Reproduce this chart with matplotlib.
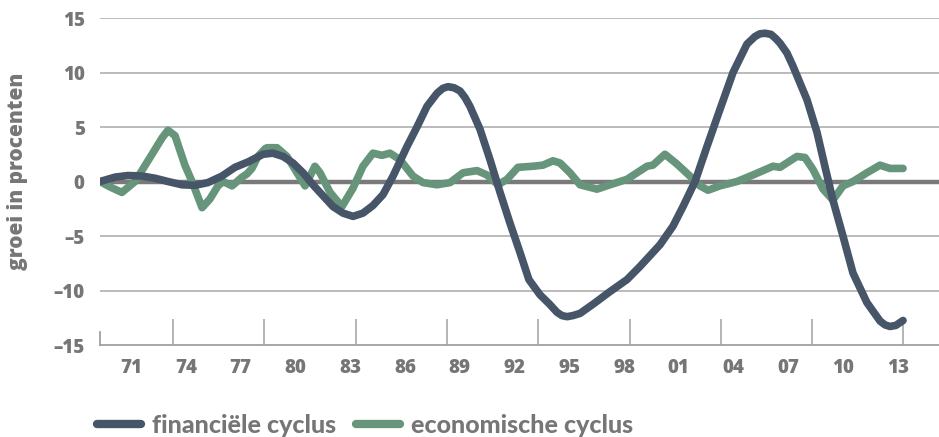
import matplotlib
matplotlib.use('Agg')
from matplotlib import pyplot as plt

# financiële cyclus (jaar, groei in %)
fin_jaar = [1970.00, 1970.82, 1971.53, 1972.30, 1973.01, 1973.72, 1974.49, 1975.20,
            1975.91, 1976.68, 1977.39, 1978.11, 1978.93, 1979.47, 1980.02, 1980.57,
            1981.12, 1981.66, 1982.21, 1982.76, 1983.31, 1983.86, 1984.40, 1984.95,
            1985.50, 1986.05, 1986.81, 1987.36, 1987.91, 1988.46, 1988.78, 1989.06,
            1989.39, 1989.72, 1989.99, 1990.26, 1990.81, 1991.36, 1991.91, 1992.45,
            1993.00, 1993.49, 1994.10, 1994.59, 1995.03, 1995.30, 1995.58, 1995.90,
            1996.29, 1997.05, 1997.93, 1998.86, 1999.57, 2000.67, 2001.38, 2001.93,
            2002.59, 2003.24, 2003.95, 2004.67, 2005.43, 2005.87, 2006.14, 2006.42,
            2006.75, 2007.02, 2007.24, 2007.62, 2007.95, 2008.72, 2009.27, 2009.70,
            2010.14, 2010.69, 2011.24, 2012.00, 2012.72, 2012.99, 2013.26, 2013.59,
            2013.98]
fin_groei = [0.0, 0.4, 0.55, 0.5, 0.3, 0.0, -0.3, -0.35,
             -0.1, 0.5, 1.3, 1.8, 2.5, 2.6, 2.3, 1.7,
             0.8, -0.3, -1.3, -2.3, -2.9, -3.2, -2.9, -2.2,
             -1.2, 0.5, 3.2, 5.0, 6.9, 8.1, 8.55, 8.7,
             8.6, 8.3, 7.7, 6.9, 4.8, 2.0, -1.0, -3.8,
             -6.5, -9.0, -10.4, -11.2, -12.0, -12.3, -12.4, -12.3,
             -12.1, -11.2, -10.1, -9.0, -7.8, -5.8, -4.1, -2.3,
             0.0, 3.2, 6.6, 10.0, 12.6, 13.3, 13.55, 13.6,
             13.5, 13.1, 12.7, 11.8, 10.6, 7.5, 4.5, 1.4,
             -1.7, -5.0, -8.4, -11.1, -12.8, -13.15, -13.3, -13.2,
             -12.75]

# economische cyclus (jaar, groei in %)
eco_jaar = [1970.00, 1970.55, 1971.20, 1971.92, 1972.74, 1973.40, 1973.72, 1974.11,
            1974.65, 1975.04, 1975.59, 1976.02, 1976.46, 1976.74, 1977.23, 1977.78,
            1978.05, 1978.32, 1978.65, 1979.04, 1979.15, 1979.69, 1980.24, 1980.79,
            1981.23, 1981.77, 1982.05, 1982.60, 1983.25, 1983.86, 1984.40, 1984.95,
            1985.44, 1985.88, 1986.43, 1987.14, 1987.69, 1988.46, 1989.17, 1989.88,
            1990.65, 1991.19, 1991.80, 1992.29, 1992.89, 1993.71, 1994.26, 1994.81,
            1995.19, 1995.74, 1996.29, 1997.22, 1997.93, 1998.86, 1999.96, 2000.28,
            2000.94, 2001.60, 2002.31, 2002.86, 2003.30, 2003.95, 2004.89, 2005.76,
            2006.86, 2007.24, 2008.17, 2008.61, 2009.05, 2009.60, 2010.14, 2010.69,
            2011.24, 2012.00, 2012.72, 2013.26, 2013.98]
eco_groei = [0.0, -0.5, -1.0, 0.0, 2.2, 4.0, 4.7, 4.2,
             1.5, 0.0, -2.4, -1.6, -0.4, 0.0, -0.4, 0.4,
             0.7, 1.2, 2.3, 3.0, 3.1, 3.1, 2.3, 0.8,
             -0.4, 1.4, 0.8, -1.0, -2.3, -0.6, 1.4, 2.6,
             2.4, 2.6, 2.0, 0.5, -0.1, -0.3, -0.1, 0.8,
             1.0, 0.6, -0.3, 0.2, 1.3, 1.4, 1.5, 1.9,
             1.7, 0.8, -0.3, -0.7, -0.3, 0.2, 1.4, 1.5,
             2.5, 1.6, 0.5, -0.4, -0.8, -0.4, 0.0, 0.6,
             1.4, 1.3, 2.3, 2.2, 1.1, -0.7, -1.7, -0.4,
             0.0, 0.8, 1.5, 1.2, 1.2]

label_jaren = [1971, 1974, 1977, 1980, 1983, 1986, 1989, 1992, 1995, 1998,
               2001, 2004, 2007, 2010, 2013]
streep_jaren = [1974, 1979, 1984, 1989, 1994, 1999, 2004, 2009, 2014]
y_ticks = [-15, -10, -5, 0, 5, 10, 15]

donker = '#475569'
groen = '#66957b'
grijs = '#767676'

plt.rcParams['font.family'] = ['Open Sans', 'DejaVu Sans']
plt.rcParams['font.weight'] = 800

fig = plt.figure(figsize=(9.39, 4.37), dpi=100)
ax = fig.add_axes([0.1065, 0.2105, 0.8935, 0.7483])

ax.set_xlim(1970, 2015.95)
ax.set_ylim(-15, 15)

for y in y_ticks[1:]:
    if y == 0:
        ax.axhline(y, color='#7a7a7a', lw=3.2, zorder=1)
    else:
        ax.axhline(y, color='#b5b5b5', lw=1.3, zorder=1)

ax.plot(fin_jaar, fin_groei, color=donker, lw=5.5, solid_capstyle='round',
        solid_joinstyle='round', zorder=3, label='financiële cyclus')
ax.plot(eco_jaar, eco_groei, color=groen, lw=5.5, solid_capstyle='round',
        solid_joinstyle='round', zorder=2, label='economische cyclus')

for s in ['top', 'right']:
    ax.spines[s].set_visible(False)
ax.spines['bottom'].set_color('#a0a0a0')
ax.spines['bottom'].set_linewidth(1.3)
ax.spines['left'].set_color('#a0a0a0')
ax.spines['left'].set_linewidth(1.3)
ax.spines['left'].set_bounds(-15, -13.8)

ax.set_yticks(y_ticks)
ax.set_yticklabels([str(v).replace('-', '–') for v in y_ticks])
ax.tick_params(axis='y', length=0, pad=11, labelsize=13.5, labelcolor=grijs)

ax.set_xticks([j + 0.7 for j in label_jaren])
ax.set_xticklabels([str(j)[2:] for j in label_jaren])
ax.set_xticks(streep_jaren, minor=True)
ax.tick_params(axis='x', which='major', length=0, pad=9, labelsize=13.5, labelcolor=grijs)
ax.tick_params(axis='x', which='minor', direction='in', length=18.5, width=1.1, color='#a0a0a0')

for lbl in ax.get_xticklabels() + ax.get_yticklabels():
    lbl.set_fontweight(800)

ax.set_ylabel('groei in procenten', fontsize=15, color=grijs, fontweight=800)
ax.yaxis.set_label_coords(-0.086, 0.532)

leg = fig.legend(loc='center left', bbox_to_anchor=(97 / 939, 0.027), ncol=2,
                 frameon=False, borderpad=0, borderaxespad=0,
                 handlelength=1.76, handletextpad=0.44, columnspacing=0.8,
                 prop={'family': 'Lato', 'weight': 900, 'size': 18})
for t in leg.get_texts():
    t.set_color(grijs)
for h in leg.get_lines():
    h.set_linewidth(6)

fig.savefig('out.png', dpi=100)
